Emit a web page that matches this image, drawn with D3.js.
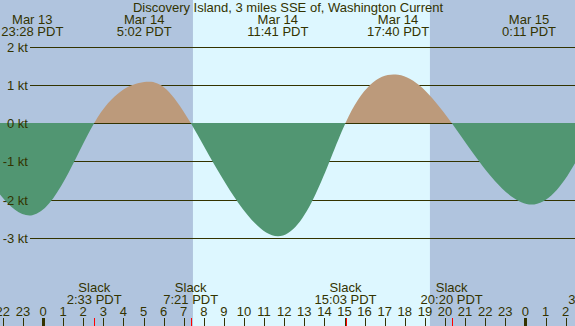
<!DOCTYPE html>
<html><head><meta charset="utf-8">
<script src="https://cdn.jsdelivr.net/npm/d3@7"></script>
<style>html,body{margin:0;padding:0;background:#b0c4de;overflow:hidden}</style>
</head><body>
<svg id="c" width="575" height="326"></svg>
<script>
const title = "Discovery Island, 3 miles SSE of, Washington Current";
// hours relative to Mar 14 00:00 PDT, current speed in kt (slacks and extremes)
const curveHours  = [-4.3, -0.533, 2.55, 5.033, 7.35, 11.683, 15.05, 17.667, 20.333, 24.183, 27.5];
const curveValues = [0, -2.41, 0, 1.07, 0, -2.96, 0, 1.26, 0, -2.13, 0];
const extremeHours  = [-0.533, 5.033, 11.683, 17.667, 24.183];
const extremeDates  = ["Mar 13", "Mar 14", "Mar 14", "Mar 14", "Mar 15"];
const extremeTimes  = ["23:28 PDT", "5:02 PDT", "11:41 PDT", "17:40 PDT", "0:11 PDT"];
const slackHours = [2.55, 7.35, 15.05, 20.333, 27.5];
const slackTimes = ["2:33 PDT", "7:21 PDT", "15:03 PDT", "20:20 PDT", "3:30 PDT"];
const sunrise = 7.46, sunset = 19.25;
const yTicks = [2, 1, 0, -1, -2, -3];
const hourTicks = d3.range(-2, 28);

const W = 575, H = 326;
const x = d3.scaleLinear().domain([0, 24]).range([43, 43 + 24 * 20.1]);
const y = d3.scaleLinear().domain([0, 1]).range([123, 123 - 38.25]);
const ink = "#333300";
const font = "Liberation Sans, Arial, sans-serif";

const svg = d3.select("#c");
svg.append("rect").attr("width", W).attr("height", H).attr("fill", "#b0c4de");
svg.append("rect").attr("x", x(sunrise)).attr("y", 0).attr("width", x(sunset) - x(sunrise)).attr("height", H).attr("fill", "#ddf7ff");

// grid lines
svg.selectAll("line.grid").data(yTicks).join("line")
  .attr("x1", 30).attr("x2", W).attr("y1", d => Math.round(y(d)) + 0.5).attr("y2", d => Math.round(y(d)) + 0.5)
  .attr("stroke", ink).attr("stroke-width", 1);

const pts = curveHours.map((h, i) => [h, curveValues[i]]);
const area = d3.area().x(d => x(d[0])).y0(y(0)).y1(d => y(d[1])).curve(d3.curveNatural);
const defs = svg.append("defs");
defs.append("clipPath").attr("id", "pos").append("rect").attr("x", 0).attr("y", 0).attr("width", W).attr("height", y(0));
defs.append("clipPath").attr("id", "neg").append("rect").attr("x", 0).attr("y", y(0)).attr("width", W).attr("height", H);
svg.append("path").attr("d", area(pts)).attr("fill", "#bc9a7b").attr("clip-path", "url(#pos)");
svg.append("path").attr("d", area(pts)).attr("fill", "#519672").attr("clip-path", "url(#neg)");

// y labels
svg.selectAll("text.yl").data(yTicks).join("text")
  .attr("x", 28).attr("y", d => y(d) + 5).attr("text-anchor", "end")
  .attr("font-family", font).attr("font-size", 13).attr("fill", ink)
  .text(d => d + " kt");

// title
svg.append("text").attr("x", 288).attr("y", 12).attr("text-anchor", "middle")
  .attr("font-family", font).attr("font-size", 13).attr("fill", ink).text(title);

// extremes labels
const ex = svg.selectAll("g.ex").data(extremeHours).join("g");
ex.append("text").attr("x", d => x(d)).attr("y", 24).attr("text-anchor", "middle")
  .attr("font-family", font).attr("font-size", 13).attr("fill", ink).text((d, i) => extremeDates[i]);
ex.append("text").attr("x", d => x(d)).attr("y", 36).attr("text-anchor", "middle")
  .attr("font-family", font).attr("font-size", 13).attr("fill", ink).text((d, i) => extremeTimes[i]);

// slack labels
const sl = svg.selectAll("g.sl").data(slackHours).join("g");
sl.append("text").attr("x", d => x(d)).attr("y", 292).attr("text-anchor", "middle")
  .attr("font-family", font).attr("font-size", 13).attr("fill", ink).text("Slack");
sl.append("text").attr("x", d => x(d)).attr("y", 304).attr("text-anchor", "middle")
  .attr("font-family", font).attr("font-size", 13).attr("fill", ink).text((d, i) => slackTimes[i]);

// hour axis
svg.selectAll("text.hr").data(hourTicks).join("text")
  .attr("x", d => x(d)).attr("y", 316).attr("text-anchor", "middle")
  .attr("font-family", font).attr("font-size", 13).attr("fill", ink)
  .text(d => ((d % 24) + 24) % 24);
svg.selectAll("line.ht").data(hourTicks).join("line")
  .attr("x1", d => Math.round(x(d)) + 0.5).attr("x2", d => Math.round(x(d)) + 0.5)
  .attr("y1", 318).attr("y2", H)
  .attr("stroke", ink).attr("stroke-width", d => (((d % 24) + 24) % 24) === 0 ? 3 : 1);
svg.selectAll("line.st").data(slackHours).join("line")
  .attr("x1", d => Math.round(x(d)) + 0.5).attr("x2", d => Math.round(x(d)) + 0.5)
  .attr("y1", 318).attr("y2", H).attr("stroke", "#ff0000").attr("stroke-width", 1);
</script>
</body></html>
